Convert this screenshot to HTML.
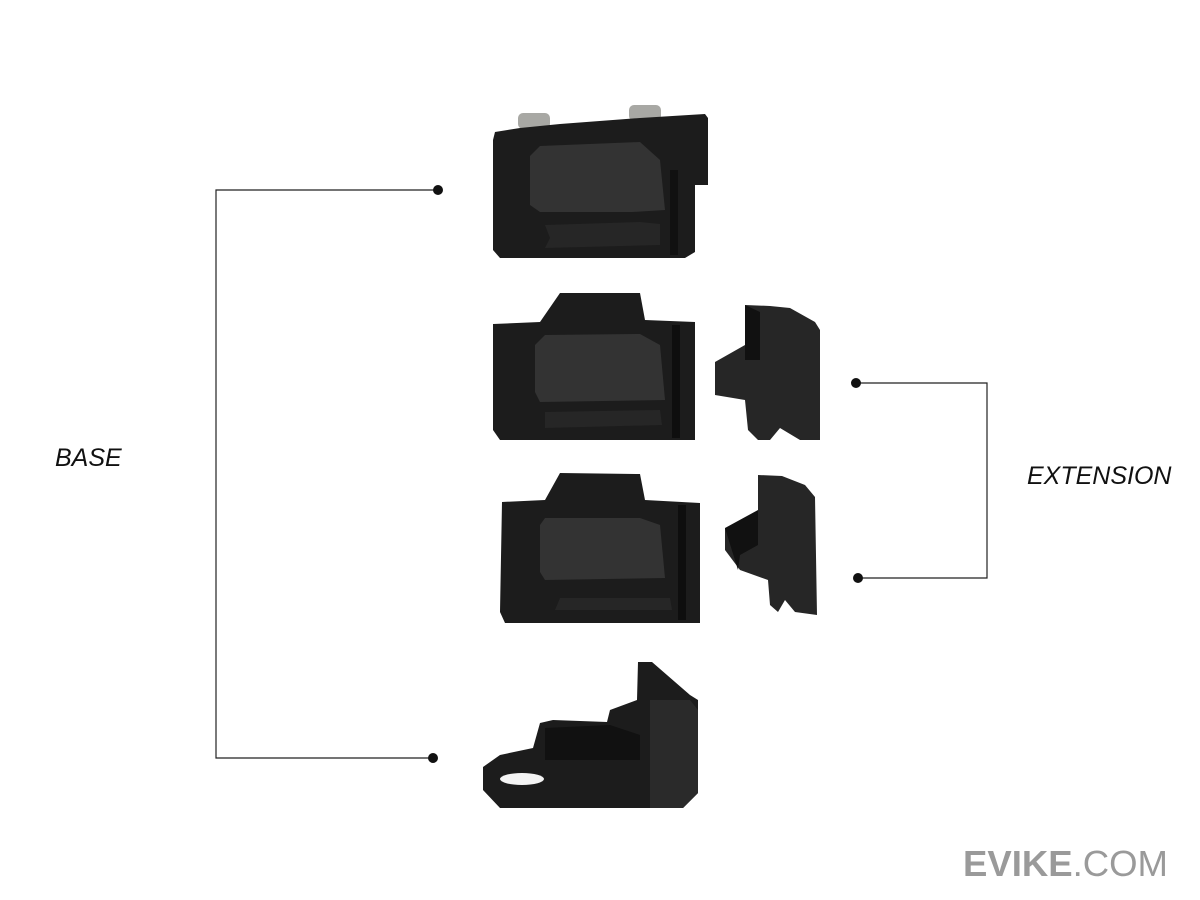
<!DOCTYPE html>
<html><head><meta charset="utf-8"><style>
html,body{margin:0;padding:0;background:#fff;}
svg{display:block}
</style></head><body>
<svg width="1200" height="900" viewBox="0 0 1200 900" xmlns="http://www.w3.org/2000/svg">
<rect width="1200" height="900" fill="#fff"/>
<!-- connectors -->
<g stroke="#222" stroke-width="1.2" fill="none">
<polyline points="438,190 216,190 216,758 433,758"/>
<polyline points="856,383 987,383 987,578 858,578"/>
</g>
<g fill="#111">
<circle cx="438" cy="190" r="5"/><circle cx="433" cy="758" r="5"/>
<circle cx="856" cy="383" r="5"/><circle cx="858" cy="578" r="5"/>
</g>
<g font-family="Liberation Sans, sans-serif" font-style="italic" font-size="25" fill="#111">
<text x="55" y="466">BASE</text>
<text x="1027" y="484">EXTENSION</text>
</g>
<text x="963" y="876" font-family="Liberation Sans, sans-serif" font-size="36" fill="#9a9a9a" textLength="205" lengthAdjust="spacingAndGlyphs"><tspan font-weight="bold">EVIKE</tspan>.COM</text>

<!-- part 1 -->
<g>
<rect x="518" y="113" width="32" height="16" rx="5" fill="#a8a8a4"/>
<rect x="629" y="105" width="32" height="16" rx="5" fill="#a8a8a4"/>
<polygon points="495,132 520,128 560,124 640,118 705,114 708,118 708,185 695,185 695,252 685,258 500,258 493,250 493,140" fill="#1c1c1c"/>
<polygon points="540,146 640,142 660,160 665,210 632,212 540,212 530,205 530,156" fill="#333"/>
<polygon points="545,225 640,222 660,224 660,245 545,248 550,238" fill="#262626"/>
<rect x="670" y="170" width="8" height="85" fill="#111"/>
</g>
<!-- part 2 -->
<g>
<polygon points="560,293 640,293 645,320 695,322 695,440 500,440 493,430 493,324 540,322" fill="#1c1c1c"/>
<polygon points="545,335 640,334 660,345 665,400 540,402 535,392 535,345" fill="#333"/>
<rect x="672" y="325" width="8" height="113" fill="#0e0e0e"/>
<polygon points="545,412 660,410 662,425 545,428" fill="#262626"/>
</g>
<!-- ext 1 -->
<polygon points="745,305 770,306 790,308 815,322 820,330 820,440 800,440 780,428 770,440 758,440 748,430 745,400 715,395 715,362 745,345" fill="#262626"/>
<polygon points="745,305 760,312 760,360 745,360" fill="#111"/>
<!-- part 3 -->
<g>
<polygon points="560,473 640,474 645,500 700,503 700,623 505,623 500,612 502,502 545,500" fill="#1c1c1c"/>
<polygon points="545,518 640,518 660,525 665,578 545,580 540,572 540,525" fill="#333"/>
<rect x="678" y="505" width="8" height="115" fill="#0e0e0e"/>
<polygon points="560,598 670,598 672,610 555,610" fill="#262626"/>
</g>
<!-- ext 2 -->
<polygon points="758,475 782,476 805,485 815,497 817,615 795,612 785,600 778,612 770,605 768,580 740,570 725,550 725,528 750,525 758,510" fill="#262626"/>
<polygon points="725,528 758,510 758,545 740,555 738,570" fill="#111"/>
<!-- part 4 -->
<g>
<polygon points="638,662 652,662 690,695 698,700 698,793 683,808 500,808 483,790 483,767 500,755 533,748 540,723 553,720 607,722 610,710 637,700" fill="#1c1c1c"/>
<polygon points="545,728 610,725 640,735 640,760 545,760" fill="#111"/>
<polygon points="650,700 690,700 698,710 698,793 683,808 650,808" fill="#2a2a2a"/>
<ellipse cx="522" cy="779" rx="22" ry="6" fill="#f4f4f4"/>
</g>
</svg>
</body></html>
